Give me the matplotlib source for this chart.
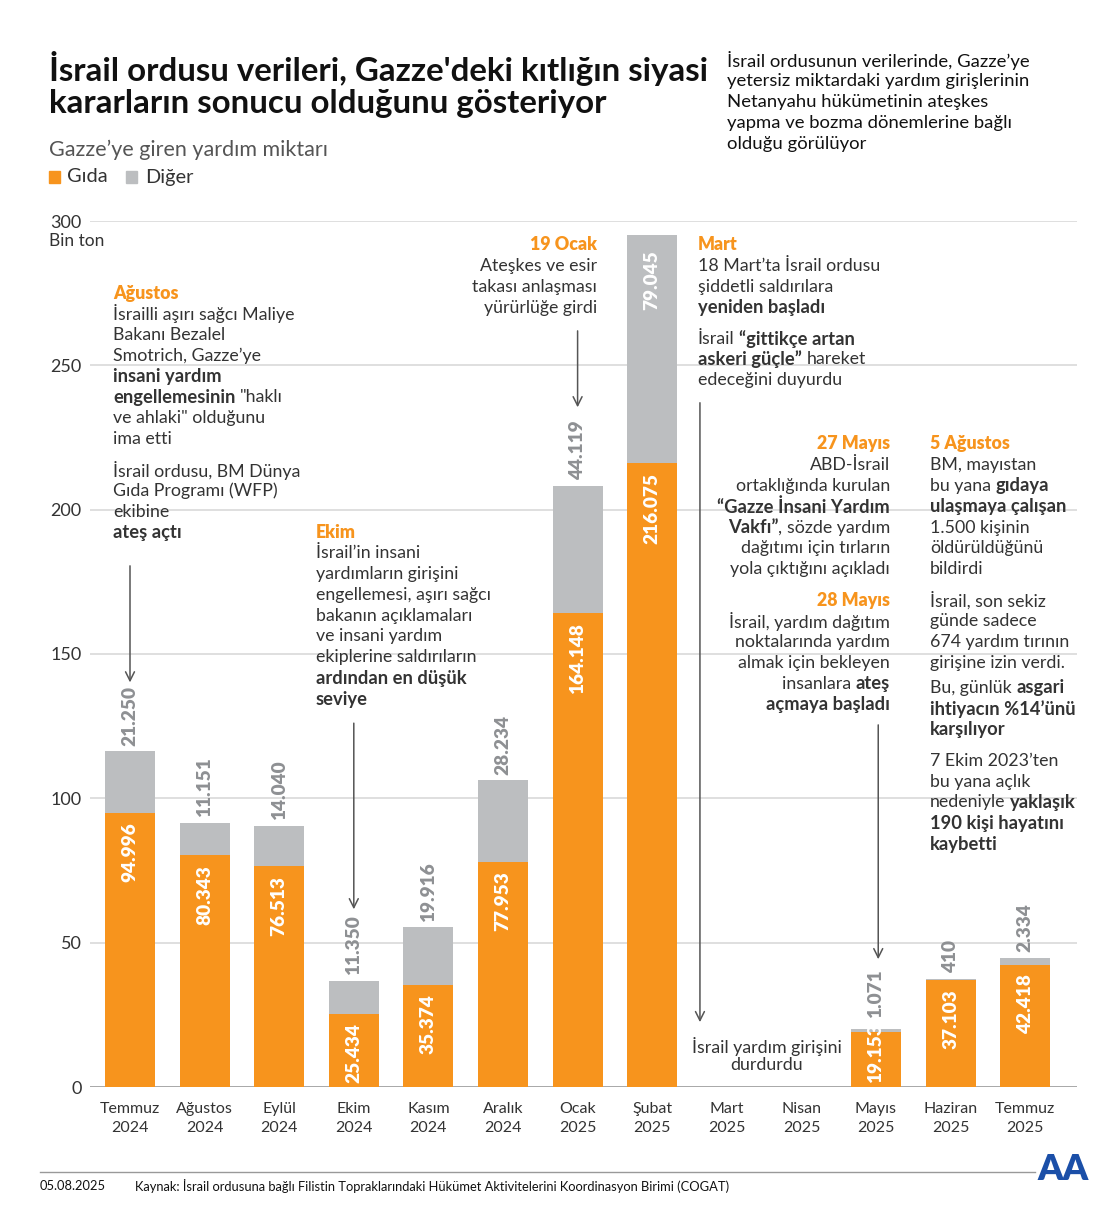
import matplotlib
matplotlib.use('Agg')
import matplotlib.pyplot as plt

# ---------------- data ----------------
months = ['Temmuz\n2024', 'Ağustos\n2024', 'Eylül\n2024', 'Ekim\n2024', 'Kasım\n2024',
          'Aralık\n2024', 'Ocak\n2025', 'Şubat\n2025', 'Mart\n2025', 'Nisan\n2025',
          'Mayıs\n2025', 'Haziran\n2025', 'Temmuz\n2025']
food = [94.996, 80.343, 76.513, 25.434, 35.374, 77.953, 164.148, 216.075, 0, 0, 19.153, 37.103, 42.418]
other = [21.250, 11.151, 14.040, 11.350, 19.916, 28.234, 44.119, 79.045, 0, 0, 1.071, 0.410, 2.334]
yticks = [0, 50, 100, 150, 200, 250, 300]

ORANGE = '#F7941D'
GRAY = '#BCBEC0'
GRAYTXT = '#8E9093'
DARK = '#333333'
FONT = ['Lato', 'DejaVu Sans']
plt.rcParams['font.family'] = FONT

W, H = 1120, 1220
fig = plt.figure(figsize=(W / 100, H / 100), dpi=100)
fig.patch.set_facecolor('white')


def px(s):
    return s * 0.72


def fx(x):
    return x / W


def fy(y):
    return 1 - y / H


ANN = px(17.8)
ANNB = px(18.4)

# axes: x from 90..1077 px, y 0 at 1087, 300 at 221
n = len(months)
x0, x1 = 90, 1077
c0, step = 130, 74.6
left_idx = (x0 - c0) / step
right_idx = (x1 - c0) / step
ax = fig.add_axes([fx(x0), fy(1087), (x1 - x0) / W, (1087 - 221) / H])
ax.set_xlim(left_idx, right_idx)
ax.set_ylim(0, 300)
for s in ax.spines.values():
    s.set_visible(False)
ax.set_axisbelow(True)
for t in yticks:
    ax.axhline(t, color='#9a9a9a' if t == 0 else '#d9d9d9', lw=1.2, zorder=0)

xs = list(range(n))
ax.bar(xs, food, width=0.67, color=ORANGE, zorder=2)
ax.bar(xs, other, bottom=food, width=0.67, color=GRAY, zorder=2)

ax.set_yticks(yticks)
ax.set_yticklabels([str(t) for t in yticks])
ax.set_xticks(xs)
ax.set_xticklabels(months, linespacing=1.45)
ax.tick_params(axis='y', length=0, pad=6, labelsize=px(18), labelcolor=DARK)
ax.tick_params(axis='x', length=0, pad=11, labelsize=px(16), labelcolor=DARK)

fig.canvas.draw()
renderer = fig.canvas.get_renderer()


def fmt(v):
    return f"{int(round(v * 1000)):,}".replace(',', '.')


LBL = px(19)
for i in xs:
    f, o = food[i], other[i]
    if f <= 0:
        continue
    food_top = f
    if f < 24:
        t = ax.annotate(fmt(f), (i, 0), xytext=(0, 3), textcoords='offset points', rotation=90,
                        ha='center', va='bottom', color='white', fontweight='heavy', fontsize=LBL, zorder=3)
        bb = t.get_window_extent(renderer)
        food_top = ax.transData.inverted().transform((0, bb.y1))[1]
    else:
        ax.annotate(fmt(f), (i, f), xytext=(0, -7), textcoords='offset points', rotation=90,
                    ha='center', va='top', color='white', fontweight='heavy', fontsize=LBL, zorder=3)
    if o > 60:
        ax.annotate(fmt(o), (i, f + o), xytext=(0, -11), textcoords='offset points', rotation=90,
                    ha='center', va='top', color='white', fontweight='heavy', fontsize=LBL, zorder=3)
    else:
        base = max(f + o, food_top)
        ax.annotate(fmt(o), (i, base), xytext=(0, 4), textcoords='offset points', rotation=90,
                    ha='center', va='bottom', color=GRAYTXT, fontweight='heavy', fontsize=LBL, zorder=3)


# arrows (x in bar index units, y in data units)
def arrow(xi, y_from, y_to):
    ax.annotate('', xy=(xi, y_to), xytext=(xi, y_from),
                arrowprops=dict(arrowstyle='->', color='#555555', lw=1.1, mutation_scale=16),
                zorder=4, annotation_clip=False)


arrow(0, 181.5, 139.2)
arrow(3, 127.0, 60.6)
arrow(6, 262.9, 234.5)
arrow(7.64, 238.0, 21.5)
arrow(10.03, 126.4, 43.3)


# ---------------- texts ----------------
def text_w(s, size, weight):
    t = fig.text(0, 0, s, fontsize=size, fontweight=weight)
    w = t.get_window_extent(renderer).width
    t.remove()
    return w


def rich(x, y, segs, ha='left', size=ANN, bsize=ANNB, color=DARK):
    """segs: list of (text, bold); ' ' items are explicit spaces."""
    widths = []
    sp = text_w('a a', size, 'normal') - text_w('aa', size, 'normal')
    for s, b in segs:
        if s == ' ':
            widths.append(sp)
        else:
            widths.append(text_w(s, bsize if b else size, 'bold' if b else 'normal'))
    total = sum(widths)
    if ha == 'left':
        cx = x
    elif ha == 'right':
        cx = x - total
    else:
        cx = x - total / 2
    for (s, b), w in zip(segs, widths):
        if s != ' ':
            fig.text(fx(cx), fy(y), s, fontsize=bsize if b else size,
                     fontweight='bold' if b else 'normal',
                     color=color, ha='left', va='center')
        cx += w


def block(x, y0, lines, ha='left', dy=20.9):
    y = y0
    for ln in lines:
        if ln is None:
            y += 10
            continue
        if isinstance(ln, tuple) and ln[0] == 'H':
            fig.text(fx(x), fy(y), ln[1], fontsize=ANN, fontweight='heavy', color=ORANGE,
                     ha=ha, va='center')
        elif isinstance(ln, str):
            fig.text(fx(x), fy(y), ln, fontsize=ANN, color=DARK, ha=ha, va='center')
        else:
            rich(x, y, ln, ha=ha)
        y += dy


# title
fig.text(fx(49), fy(68), 'İsrail ordusu verileri, Gazze\'deki kıtlığın siyasi',
         fontsize=px(33), fontweight='bold', color='#111111', va='center')
fig.text(fx(49), fy(103), 'kararların sonucu olduğunu gösteriyor',
         fontsize=px(33), fontweight='bold', color='#111111', va='center')
for k, ln in enumerate(['İsrail ordusunun verilerinde, Gazze’ye',
                        'yetersiz miktardaki yardım girişlerinin',
                        'Netanyahu hükümetinin ateşkes',
                        'yapma ve bozma dönemlerine bağlı',
                        'olduğu görülüyor']):
    fig.text(fx(727), fy(60 + k * 21), ln, fontsize=px(18.5), color='#111111', va='center')

fig.text(fx(49), fy(150), 'Gazze’ye giren yardım miktarı', fontsize=px(21.5), color='#555555', va='center')
fig.patches.append(plt.Rectangle((fx(49), fy(183)), 11 / W, 12 / H, color=ORANGE, transform=fig.transFigure))
fig.text(fx(67), fy(177), 'Gıda', fontsize=px(20), color=DARK, va='center')
fig.patches.append(plt.Rectangle((fx(126), fy(183)), 11 / W, 12 / H, color=GRAY, transform=fig.transFigure))
fig.text(fx(145), fy(177), 'Diğer', fontsize=px(20), color=DARK, va='center')
fig.text(fx(49), fy(241), 'Bin ton', fontsize=px(17.4), color=DARK, va='center')

# annotations
block(113, 293, [('H', 'Ağustos'),
                 'İsrailli aşırı sağcı Maliye',
                 'Bakanı Bezalel',
                 'Smotrich, Gazze’ye',
                 [('insani yardım', True)],
                 [('engellemesinin', True), (' ', False), ('"haklı', False)],
                 've ahlaki" olduğunu',
                 'ima etti',
                 None,
                 'İsrail ordusu, BM Dünya',
                 'Gıda Programı (WFP)',
                 'ekibine',
                 [('ateş açtı', True)]])

block(316, 532, [('H', 'Ekim'),
                 'İsrail’in insani',
                 'yardımların girişini',
                 'engellemesi, aşırı sağcı',
                 'bakanın açıklamaları',
                 've insani yardım',
                 'ekiplerine saldırıların',
                 [('ardından en düşük', True)],
                 [('seviye', True)]])

block(597, 245, [('H', '19 Ocak'),
                 'Ateşkes ve esir',
                 'takası anlaşması',
                 'yürürlüğe girdi'], ha='right')

block(698, 245, [('H', 'Mart'),
                 '18 Mart’ta İsrail ordusu',
                 'şiddetli saldırılara',
                 [('yeniden başladı', True)],
                 None,
                 [('İsrail', False), (' ', False), ('“gittikçe artan', True)],
                 [('askeri güçle”', True), (' ', False), ('hareket', False)],
                 'edeceğini duyurdu'])

fig.text(fx(767), fy(1046), 'İsrail yardım girişini', fontsize=ANN, color=DARK, ha='center', va='center')
fig.text(fx(767), fy(1065), 'durdurdu', fontsize=ANN, color=DARK, ha='center', va='center')

block(890, 444, [('H', '27 Mayıs'),
                 'ABD-İsrail',
                 'ortaklığında kurulan',
                 [('“Gazze İnsani Yardım', True)],
                 [('Vakfı”', True), (',', False), (' ', False), ('sözde yardım', False)],
                 'dağıtımı için tırların',
                 'yola çıktığını açıkladı',
                 None,
                 ('H', '28 Mayıs'),
                 'İsrail, yardım dağıtım',
                 'noktalarında yardım',
                 'almak için bekleyen',
                 [('insanlara', False), (' ', False), ('ateş', True)],
                 [('açmaya başladı', True)]], ha='right')

block(930, 444, [('H', '5 Ağustos'),
                 'BM, mayıstan',
                 [('bu yana', False), (' ', False), ('gıdaya', True)],
                 [('ulaşmaya çalışan', True)],
                 '1.500 kişinin',
                 'öldürüldüğünü',
                 'bildirdi',
                 None,
                 'İsrail, son sekiz',
                 'günde sadece',
                 '674 yardım tırının',
                 'girişine izin verdi.'], ha='left')
block(930, 688, [[('Bu, günlük', False), (' ', False), ('asgari', True)],
                 [('ihtiyacın %14’ünü', True)],
                 [('karşılıyor', True)],
                 None,
                 '7 Ekim 2023’ten',
                 'bu yana açlık',
                 [('nedeniyle', False), (' ', False), ('yaklaşık', True)],
                 [('190 kişi hayatını', True)],
                 [('kaybetti', True)]], ha='left')

# footer
fig.add_artist(plt.Line2D([fx(40), fx(1035)], [fy(1172), fy(1172)], color='#999999', lw=1,
                          transform=fig.transFigure))
fig.text(fx(40), fy(1186), '05.08.2025', fontsize=px(12.9), color='#111111', va='center')
fig.text(fx(135), fy(1186),
         'Kaynak: İsrail ordusuna bağlı Filistin Topraklarındaki Hükümet Aktivitelerini Koordinasyon Birimi (COGAT)',
         fontsize=px(12.9), color='#111111', va='center')
fig.text(fx(1063), fy(1170), 'AA', fontsize=px(36), fontweight='heavy', color='#1B4FA8',
         ha='center', va='center')

fig.savefig('out.png', dpi=100, facecolor='white')
